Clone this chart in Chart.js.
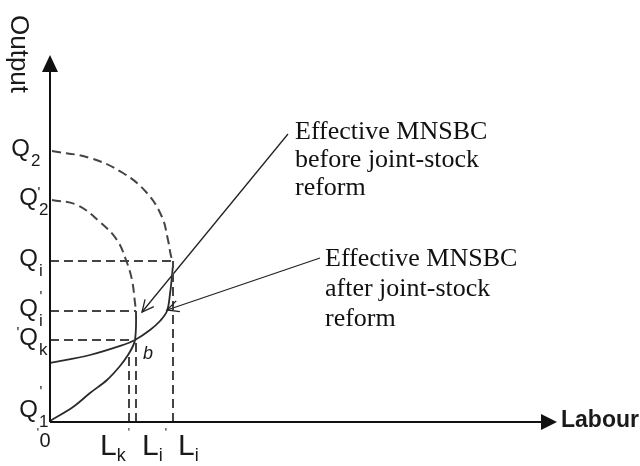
<!DOCTYPE html>
<html>
<head>
<meta charset="utf-8">
<script src="https://cdn.jsdelivr.net/npm/chart.js"></script>
<style>
  html, body { margin: 0; padding: 0; background: #fff; }
  #wrap { width: 640px; height: 466px; }
</style>
</head>
<body>
<div id="wrap"><canvas id="chart"></canvas></div>
<script>
// axis ranges (arbitrary units)
const labourMax = 50.7;
const outputMax = 36.6;

// output levels marked on the vertical axis
const qSubs   = ['2', '2', 'i', 'i', 'k', '1'];
const qPrimes = [false, true, false, true, true, true];
const qLevels = [27.1, 22.2, 16.1, 11.1, 8.2, 1.0];

// labour levels marked on the horizontal axis
const lSubs   = ['k', 'i', 'i'];
const lPrimes = [true, true, false];
const lLevels = [7.9, 8.6, 12.3];

// point b, where both MNSBC curves meet
const pointB = { x: 8.5, y: 8.2 };

// dashed frontiers starting at Q2 and Q'2
const frontierQ2  = [[0.2, 27.1], [4.0, 26.4], [7.3, 24.9], [9.7, 22.9], [11.2, 20.5], [11.8, 18.2], [12.1, 16.6], [12.3, 16.1]];
const frontierQ2p = [[0.2, 22.2], [2.7, 21.7], [5.0, 20.0], [6.7, 18.2], [7.6, 16.2], [8.2, 14.2], [8.5, 11.9], [8.6, 11.1]];

// solid curves
const curveFromOrigin = [[0, 0.1], [2.3, 1.5], [4.0, 2.9], [5.7, 4.2], [7.0, 5.6], [7.8, 6.7], [8.3, 7.6], [8.5, 8.2], [8.6, 9.6], [8.6, 11.1]];
const curveFromAxis   = [[0, 5.9], [4.0, 6.7], [7.3, 7.7], [8.5, 8.2], [10.0, 9.2], [11.0, 10.1], [11.7, 11.1], [12.0, 12.8], [12.2, 14.6], [12.3, 15.8]];

// dashed guides: [x0, y0, x1, y1]
const guides = [
  [0, 16.1, 12.3, 16.1],
  [0, 11.1, 8.6, 11.1],
  [0, 8.2, 8.5, 8.2],
  [7.9, 0, 7.9, 6.8],
  [8.6, 0, 8.6, 8.2],
  [12.3, 0, 12.3, 16.1]
];

// annotation arrows: from text to tip
const arrowBefore = [[23.8, 28.8], [9.2, 11.0]];
const arrowAfter  = [[27.0, 16.4], [11.7, 11.2]];
const noteBefore = ['Effective MNSBC', 'before joint-stock', 'reform'];
const noteAfter  = ['Effective MNSBC', 'after joint-stock', 'reform'];

const toPts = arr => arr.map(p => ({ x: p[0], y: p[1] }));

const dashed = { borderColor: '#444', borderWidth: 2, borderDash: [9, 5], tension: 0.4 };
const solid  = { borderColor: '#2a2a2a', borderWidth: 1.8, tension: 0.35 };

const datasets = [
  Object.assign({ data: toPts(frontierQ2) }, dashed),
  Object.assign({ data: toPts(frontierQ2p) }, dashed)
];
guides.forEach(g => {
  datasets.push(Object.assign({ data: [{ x: g[0], y: g[1] }, { x: g[2], y: g[3] }] }, dashed, { tension: 0 }));
});
datasets.push(Object.assign({ data: toPts(curveFromOrigin) }, solid));
datasets.push(Object.assign({ data: toPts(curveFromAxis) }, solid));
datasets.push({ data: toPts(arrowBefore), borderColor: '#222', borderWidth: 1.3, tension: 0 });
datasets.push({ data: toPts(arrowAfter), borderColor: '#222', borderWidth: 1.3, tension: 0 });
datasets.forEach(d => { d.showLine = true; d.pointRadius = 0; d.fill = false; });

// small offsets for the prime marks on Q labels (pixels)
const qPrimeDx = [0, -11, 0, -9, -32, -9];
const qPrimeDy = [0, -7, 0, -14, -7, -20];
const lDx = [-29, 6, 5];

function openHead(ctx, from, tip, len, ang) {
  const a = Math.atan2(from.y - tip.y, from.x - tip.x);
  ctx.beginPath();
  ctx.moveTo(tip.x + len * Math.cos(a + ang), tip.y + len * Math.sin(a + ang));
  ctx.lineTo(tip.x, tip.y);
  ctx.lineTo(tip.x + len * Math.cos(a - ang), tip.y + len * Math.sin(a - ang));
  ctx.stroke();
}

const diagramPlugin = {
  id: 'diagram',
  afterDatasetsDraw(chart) {
    const ctx = chart.ctx;
    const xs = chart.scales.x, ys = chart.scales.y;
    const ox = xs.getPixelForValue(0), oy = ys.getPixelForValue(0);
    const top = ys.getPixelForValue(outputMax), right = xs.getPixelForValue(labourMax);
    ctx.save();

    // axes with arrows
    ctx.strokeStyle = '#111';
    ctx.fillStyle = '#111';
    ctx.lineWidth = 2;
    ctx.beginPath();
    ctx.moveTo(ox, oy); ctx.lineTo(ox, top + 14);
    ctx.moveTo(ox, oy); ctx.lineTo(right - 14, oy);
    ctx.stroke();
    ctx.beginPath();
    ctx.moveTo(ox, top - 1); ctx.lineTo(ox - 8, top + 16); ctx.lineTo(ox + 8, top + 16); ctx.closePath();
    ctx.fill();
    ctx.beginPath();
    ctx.moveTo(right, oy); ctx.lineTo(right - 16, oy - 8); ctx.lineTo(right - 16, oy + 8); ctx.closePath();
    ctx.fill();

    // arrow heads of the notes
    ctx.lineWidth = 1.3;
    ctx.strokeStyle = '#222';
    [arrowBefore, arrowAfter].forEach(a => {
      const from = { x: xs.getPixelForValue(a[0][0]), y: ys.getPixelForValue(a[0][1]) };
      const tip = { x: xs.getPixelForValue(a[1][0]), y: ys.getPixelForValue(a[1][1]) };
      openHead(ctx, from, tip, 13, 0.45);
    });

    ctx.fillStyle = '#1a1a1a';
    ctx.textBaseline = 'middle';

    // Q labels
    qLevels.forEach((v, i) => {
      const py = ys.getPixelForValue(v);
      const qRight = ox - 12 + (i === 0 ? -8 : 0);
      ctx.font = '24px "Liberation Sans", Arial, sans-serif';
      ctx.textAlign = 'right';
      ctx.fillText('Q', qRight, py - 2);
      ctx.font = '17px "Liberation Sans", Arial, sans-serif';
      ctx.textAlign = 'left';
      ctx.fillText(qSubs[i], qRight + 1, py + 10);
      if (qPrimes[i]) {
        ctx.font = '15px "Liberation Sans", Arial, sans-serif';
        ctx.textAlign = 'center';
        ctx.fillText("'", ox + qPrimeDx[i], py + qPrimeDy[i]);
      }
    });

    // L labels
    lLevels.forEach((v, i) => {
      const px = xs.getPixelForValue(v) + lDx[i];
      ctx.font = '30px "Liberation Sans", Arial, sans-serif';
      ctx.textAlign = 'left';
      ctx.fillText('L', px, oy + 25);
      const lw = ctx.measureText('L').width;
      ctx.font = '18px "Liberation Sans", Arial, sans-serif';
      ctx.fillText(lSubs[i], px + lw, oy + 34);
      const sw = ctx.measureText(lSubs[i]).width;
      if (lPrimes[i]) {
        ctx.font = '12px "Liberation Sans", Arial, sans-serif';
        ctx.fillText("'", px + lw + sw + 2, oy + 12);
      }
    });

    // origin
    ctx.font = '20px "Liberation Sans", Arial, sans-serif';
    ctx.textAlign = 'center';
    ctx.fillText('0', ox - 5, oy + 19);
    ctx.font = '12px "Liberation Sans", Arial, sans-serif';
    ctx.fillText("'", ox - 12, oy + 12);

    // point b
    ctx.font = 'italic 18px "Liberation Sans", Arial, sans-serif';
    ctx.fillText('b', xs.getPixelForValue(pointB.x) + 13, ys.getPixelForValue(pointB.y) + 14);

    // axis titles
    ctx.font = 'bold 23px "Liberation Sans", Arial, sans-serif';
    ctx.textAlign = 'left';
    ctx.fillText('Labour', right + 4, oy - 1);
    ctx.save();
    ctx.translate(18, 54);
    ctx.rotate(Math.PI / 2);
    ctx.font = '26px "Liberation Sans", Arial, sans-serif';
    ctx.textAlign = 'center';
    ctx.fillText('Output', 0, 0);
    ctx.restore();

    // notes
    ctx.font = '26px "Liberation Serif", "Times New Roman", serif';
    ctx.textAlign = 'left';
    ctx.fillStyle = '#111';
    const b0x = xs.getPixelForValue(arrowBefore[0][0]), b0y = ys.getPixelForValue(arrowBefore[0][1]);
    noteBefore.forEach((t, i) => ctx.fillText(t, b0x + 7, b0y - 2 + i * 28));
    const a0x = xs.getPixelForValue(arrowAfter[0][0]), a0y = ys.getPixelForValue(arrowAfter[0][1]);
    noteAfter.forEach((t, i) => ctx.fillText(t, a0x + 5, a0y + 1 + i * 30));

    ctx.restore();
  }
};

new Chart(document.getElementById('chart'), {
  type: 'scatter',
  data: { datasets: datasets },
  options: {
    responsive: true,
    maintainAspectRatio: false,
    animation: false,
    layout: { padding: { left: 50, right: 83, top: 56, bottom: 44 } },
    plugins: { legend: { display: false }, tooltip: { enabled: false } },
    scales: {
      x: { type: 'linear', min: 0, max: labourMax, display: false },
      y: { type: 'linear', min: 0, max: outputMax, display: false }
    }
  },
  plugins: [diagramPlugin]
});
</script>
</body>
</html>
